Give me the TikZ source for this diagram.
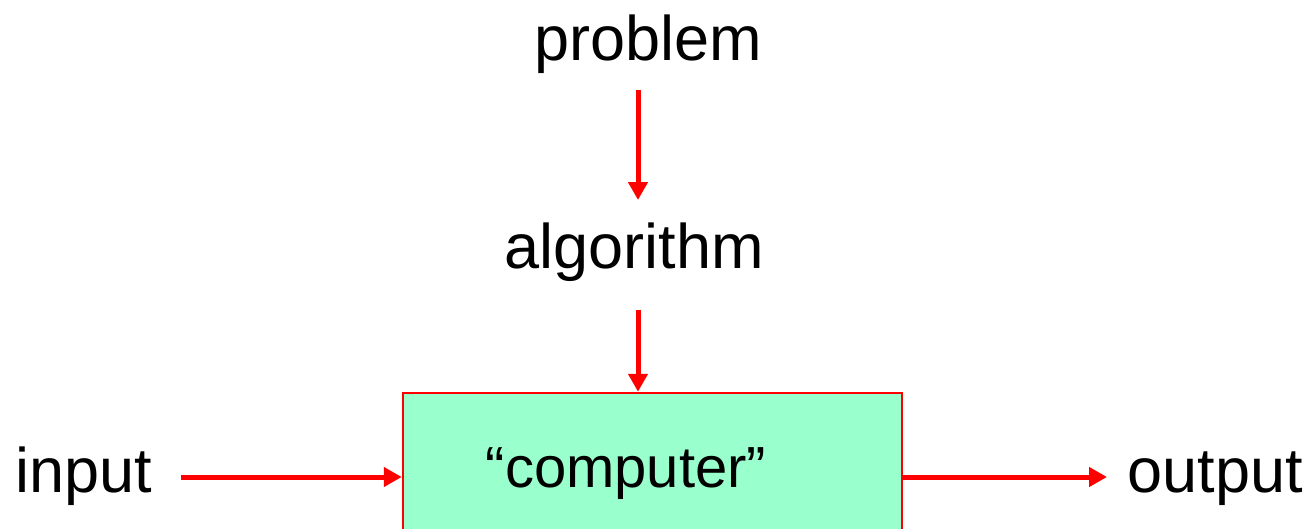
\documentclass[tikz,border=0pt]{standalone}
\usepackage{fontspec}
\setmainfont{Liberation Sans}
\usetikzlibrary{arrows.meta,calc}
\definecolor{boxfill}{HTML}{99FFCC}
\definecolor{arrred}{HTML}{FF0000}
\begin{document}
\begin{tikzpicture}[x=1pt,y=-1pt,
  lbl/.style={inner sep=0pt,anchor=base,font=\fontsize{63}{70}\selectfont},
  arr/.style={draw=arrred,line width=5pt,-{Triangle[width=19pt,length=18pt]}},
  cpubox/.style={draw=arrred,fill=boxfill,line width=2.5pt,minimum width=499pt,minimum height=220pt,inner sep=0pt}
]
\useasboundingbox (0,0) rectangle (1310,528);
\clip (0,0) rectangle (1310,528);
\node[cpubox] (cpu) at (652.5,503) {};
\node[lbl] (problem) at (648,60) {problem};
\node[lbl] (algorithm) at (634,268) {algorithm};
\node[lbl,font=\fontsize{58}{66}\selectfont] (computer) at (626,487) {“computer”};
\node[lbl] (input) at (84,492) {input};
\node[lbl] (output) at (1215,492) {output};
\coordinate (p1) at (638,90);
\coordinate (p2) at (638,200);
\coordinate (a1) at (638,310);
\coordinate (in1) at (181,477);
\coordinate (out2) at (1107,477);
\draw[arr] (p1) -- (p2);
\draw[arr] (a1) -- (a1 |- cpu.north);
\draw[arr] (in1) -- (in1 -| cpu.west);
\draw[arr] (out2 -| cpu.east) -- (out2);
\end{tikzpicture}
\end{document}
